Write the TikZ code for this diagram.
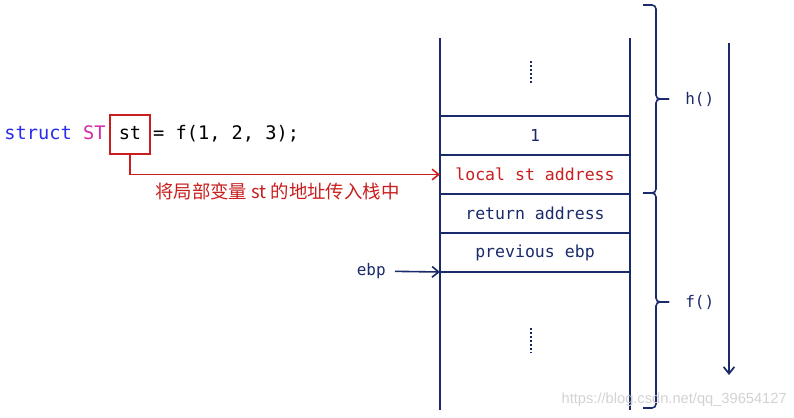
\documentclass[tikz,border=0pt]{standalone}
\usepackage{fontspec}
\setmonofont{DejaVu Sans Mono}
\newfontfamily\cjk{Noto Sans CJK SC}
\newfontfamily\wmfont{Liberation Sans}
\usetikzlibrary{positioning,arrows.meta}
\definecolor{stnavy}{HTML}{1B2A6B}
\definecolor{stred}{HTML}{C81E1E}
\definecolor{stblue}{HTML}{2A2AF0}
\definecolor{stpink}{HTML}{D42AA8}

\begin{document}
\begin{tikzpicture}[x=0.75pt, y=-0.75pt,
  node distance=0pt,
  cell/.style={draw=stnavy, line width=1.3pt, minimum width=142.5pt, minimum height=29.25pt, inner sep=0pt, outer sep=0pt, font=\ttfamily\fontsize{12.4pt}{14pt}\selectfont\color{stnavy}},
  wall/.style={draw=stnavy, line width=1.3pt},
  code/.style={inner sep=0pt, text height=10pt, text depth=3pt, font=\ttfamily\fontsize{14pt}{16pt}\selectfont},
  arr/.style={-{Straight Barb[length=5pt,width=8pt]}, line width=1.2pt},
  brace/.style={draw=stnavy, line width=1.2pt, rounded corners=3pt},
  lbl/.style={font=\ttfamily\fontsize{12pt}{14pt}\selectfont\color{stnavy}, inner sep=2pt},
  dots/.style={draw=stnavy, line width=1.8pt, dash pattern=on 1.5pt off 1.5pt}
]
\useasboundingbox (0,0) rectangle (794,418);

% the stack
\node[cell] (c1) at (535,135.5) {1};
\node[cell, below=of c1] (c2) {\color{stred}local st address};
\node[cell, below=of c2] (c3) {return address};
\node[cell, below=of c3] (c4) {previous ebp};
\draw[wall] (440,38) -- (440,410);
\draw[wall] (630,38) -- (630,410);
\draw[dots] (531,61) -- (531,84);
\draw[dots] (531,328) -- (531,353);

% the call
\node[code, draw=stred, line width=1.2pt, minimum width=30pt, minimum height=29pt] (var) at (130,134.5) {st};
\node[code, left=2.5pt of var] (kw) {\color{stblue}struct \color{stpink}ST};
\node[code, right=1.5pt of var] (rest) {= f(1, 2, 3);};
\draw[arr, stred] (var.south) |- (c2.west);
\node[font=\cjk\fontsize{13.8pt}{15pt}\selectfont, text=stred, anchor=west, inner sep=0pt] (note) at (155,191) {将局部变量 st 的地址传入栈中};

\node[lbl, anchor=east, inner sep=4pt, outer sep=3pt] (ebp) at (395,271) {ebp};
\draw[arr, stnavy] (ebp) -- (c4.south west);

% frames
\coordinate (htip) at (669,99);
\coordinate (ftip) at (669,302);
\draw[brace] (643,5) -| (656,99) -- (htip);
\draw[brace] (htip) -- (656,99) |- (643,193);
\draw[brace] (643,193) -| (656,302) -- (ftip);
\draw[brace] (ftip) -- (656,302) |- (643,408);
\node[lbl, right=10pt of htip] (hname) {h()};
\node[lbl, right=10pt of ftip] (fname) {f()};

\coordinate (flowtop) at (729,43);
\coordinate (flowend) at (729,375);
\draw[arr, stnavy, line width=1.3pt] (flowtop) -- (flowend);

\node[font=\wmfont\fontsize{11pt}{13pt}\selectfont, text=gray!35, anchor=east, inner sep=0pt] (mark) at (787,400) {https://blog.csdn.net/qq\_39654127};
\end{tikzpicture}
\end{document}
